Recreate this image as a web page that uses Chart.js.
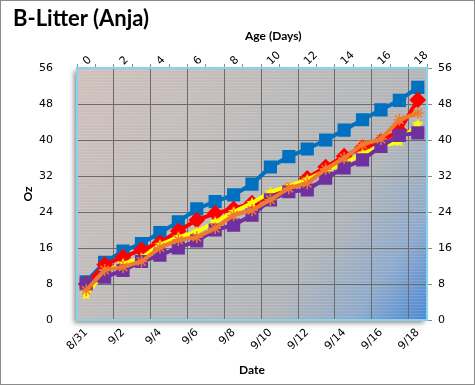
<!DOCTYPE html>
<html lang="en">
<head>
    <meta charset="UTF-8">
    <title>B-Litter (Anja)</title>
    <script src="https://cdn.jsdelivr.net/npm/chart.js@4.4.1/dist/chart.umd.min.js"></script>
    <style>
        body { margin: 0; background: #fff; }
        #wrap { position: relative; width: 475px; height: 385px; }
        #frame { position: absolute; left: 0; top: 0; width: 473px; height: 383px; border: 1px solid #8a8a8a; pointer-events: none; }
        #title { position: absolute; left: 13px; top: 4px; font: bold 22px Lato, sans-serif; color: #000; }
        #ageTitle { position: absolute; left: 245px; top: 28px; font: bold 12px Lato, sans-serif; color: #000; }
    </style>
</head>
<body>
    <div id="wrap">
        <canvas id="weightChart" width="475" height="385"></canvas>
        <div id="title">B-Litter (Anja)</div>
        <div id="ageTitle">Age (Days)</div>
        <div id="frame"></div>
    </div>

    <script>
        // dates on the bottom axis, age in days on the top axis
        const dates = ['8/31', '9/1', '9/2', '9/3', '9/4', '9/5', '9/6', '9/7', '9/8', '9/9',
                       '9/10', '9/11', '9/12', '9/13', '9/14', '9/15', '9/16', '9/17', '9/18'];
        const ages = ['0', '1', '2', '3', '4', '5', '6', '7', '8', '9',
                      '10', '11', '12', '13', '14', '15', '16', '17', '18'];
        const ozTicks = [0, 8, 16, 24, 32, 40, 48, 56];

        // weights in oz
        const bluePup   = [8.5, 12.8, 15.3, 17, 19.4, 21.8, 24.7, 26.3, 27.8, 30.2, 34, 36.3, 38, 40, 42.2, 44.5, 46.7, 48.8, 51.7];
        const redPup    = [8, 12.3, 14, 15.6, 17.2, 19.8, 22.2, 23.7, 24.7, 26, 27.5, 29, 31.5, 34, 36.4, 38.3, 39.7, 42.1, 48.9];
        const orangePup = [6.6, 11.1, 11.8, 13, 16.1, 17.8, 18.4, 20.4, 23.3, 24.4, 26.7, 29.3, 30.4, 33.5, 36, 39, 40.2, 44.5, 46];
        const yellowPup = [5.6, 10.7, 12.5, 13.8, 16.7, 18.4, 19.6, 21.8, 24, 26, 28.4, 29.8, 31.2, 33.2, 34.8, 37, 38.6, 39.6, 43.5];
        const purplePup = [8, 9.5, 11, 13, 14.4, 16, 17.6, 20, 21.1, 23.3, 26.7, 28.5, 28.9, 31.5, 33.8, 35.6, 38.6, 41, 41.6];

        // filled star marker for the yellow series
        function makeStar(color, size) {
            const c = document.createElement('canvas');
            c.width = size; c.height = size;
            const g = c.getContext('2d');
            const cx = size / 2, cy = size / 2, outer = size / 2, inner = size / 4.5;
            g.beginPath();
            for (let i = 0; i < 10; i++) {
                const r = i % 2 === 0 ? outer : inner;
                const a = -Math.PI / 2 + i * Math.PI / 5;
                g.lineTo(cx + r * Math.cos(a), cy + r * Math.sin(a));
            }
            g.closePath();
            g.fillStyle = color;
            g.fill();
            return c;
        }

        const tickFont = { family: 'DejaVu Sans', size: 11 };
        const axisTitleFont = { family: 'Lato', size: 12, weight: 'bold' };

        // gradient plot background with the faint stripe texture and shadow
        const plotBackground = {
            id: 'plotBackground',
            beforeDraw(chart) {
                const { ctx, chartArea: a } = chart;
                const w = a.right - a.left, h = a.bottom - a.top;
                const grad = ctx.createLinearGradient(a.left, a.top, a.right, a.bottom);
                grad.addColorStop(0, '#d0c0bb');
                grad.addColorStop(0.45, '#bababa');
                grad.addColorStop(0.7, '#b1b4b8');
                grad.addColorStop(0.86, '#8eaacb');
                grad.addColorStop(1, '#4a87d4');
                ctx.save();
                ctx.shadowColor = 'rgba(0,0,0,0.45)';
                ctx.shadowBlur = 5;
                ctx.shadowOffsetX = -3;
                ctx.shadowOffsetY = 3;
                ctx.fillStyle = grad;
                ctx.fillRect(a.left, a.top, w, h);
                ctx.restore();
                ctx.save();
                ctx.strokeStyle = 'rgba(255,255,255,0.13)';
                ctx.lineWidth = 1;
                for (let y = a.top + 2.5; y < a.bottom; y += 3) {
                    ctx.beginPath();
                    ctx.moveTo(a.left, y);
                    ctx.lineTo(a.right, y);
                    ctx.stroke();
                }
                ctx.restore();
            },
            afterDraw(chart) {
                const { ctx, chartArea: a } = chart;
                ctx.save();
                ctx.strokeStyle = '#86d4ee';
                ctx.lineWidth = 2;
                ctx.strokeRect(a.left, a.top, a.right - a.left, a.bottom - a.top);
                ctx.restore();
            }
        };

        function everyOther(value, index) {
            return index % 2 === 0 ? this.getLabelForValue(value) : '';
        }

        // first dataset is drawn on top
        const ctx = document.getElementById('weightChart').getContext('2d');
        const weightChart = new Chart(ctx, {
            type: 'line',
            data: {
                labels: dates,
                datasets: [
                    {
                        label: 'Orange',
                        data: orangePup,
                        borderColor: '#f07a2e',
                        backgroundColor: '#f07a2e',
                        borderWidth: 4,
                        pointStyle: 'star',
                        pointRadius: 6,
                        pointBorderWidth: 1.5
                    },
                    {
                        label: 'Purple',
                        data: purplePup,
                        borderColor: '#7030a0',
                        backgroundColor: '#7030a0',
                        borderWidth: 4,
                        pointStyle: 'rect',
                        pointRadius: 6.5
                    },
                    {
                        label: 'Yellow',
                        data: yellowPup,
                        borderColor: '#ffff00',
                        backgroundColor: '#ffff00',
                        borderWidth: 4,
                        pointStyle: makeStar('#ffff00', 12)
                    },
                    {
                        label: 'Red',
                        data: redPup,
                        borderColor: '#ff0000',
                        backgroundColor: '#ff0000',
                        borderWidth: 4,
                        pointStyle: 'rectRot',
                        pointRadius: 5.5
                    },
                    {
                        label: 'Blue',
                        data: bluePup,
                        borderColor: '#0070c0',
                        backgroundColor: '#0070c0',
                        borderWidth: 4,
                        pointStyle: 'rect',
                        pointRadius: 6.5
                    }
                ]
            },
            options: {
                responsive: false,
                animation: false,
                layout: { padding: 0 },
                plugins: {
                    legend: { display: false },
                    tooltip: { enabled: false }
                },
                scales: {
                    x: {
                        type: 'category',
                        position: 'bottom',
                        offset: true,
                        border: { display: false },
                        grid: {
                            offset: true,
                            color: c => c.index % 2 === 0 ? '#6c6c6c' : 'rgba(0,0,0,0)',
                            tickLength: 4,
                            tickColor: 'rgba(0,0,0,0)'
                        },
                        ticks: {
                            autoSkip: false,
                            minRotation: 45,
                            maxRotation: 45,
                            padding: 2,
                            color: '#000',
                            font: tickFont,
                            callback: everyOther
                        },
                        title: { display: true, text: 'Date', color: '#000', font: axisTitleFont, padding: { top: 0, bottom: 8 } },
                        afterFit: s => { s.height = 65; }
                    },
                    x2: {
                        type: 'category',
                        position: 'top',
                        labels: ages,
                        offset: true,
                        border: { display: false },
                        grid: {
                            offset: true,
                            drawOnChartArea: false,
                            tickLength: 4,
                            color: '#8a8a8a'
                        },
                        ticks: {
                            autoSkip: false,
                            minRotation: 45,
                            maxRotation: 45,
                            padding: -4,
                            labelOffset: 8,
                            color: '#000',
                            font: tickFont,
                            callback: everyOther
                        },
                        afterFit: s => { s.height = 68; }
                    },
                    y: {
                        position: 'left',
                        min: 0,
                        max: 56,
                        afterBuildTicks: s => { s.ticks = ozTicks.map(v => ({ value: v })); },
                        border: { display: false },
                        grid: { color: '#6c6c6c', tickLength: 5, tickColor: 'rgba(0,0,0,0)' },
                        ticks: { color: '#000', font: tickFont, padding: 19 },
                        title: { display: true, text: 'Oz', color: '#000', font: axisTitleFont, padding: { top: 21, bottom: 0 } },
                        afterFit: s => { s.width = 77; }
                    },
                    y2: {
                        position: 'right',
                        min: 0,
                        max: 56,
                        afterBuildTicks: s => { s.ticks = ozTicks.map(v => ({ value: v })); },
                        border: { display: false },
                        grid: { drawOnChartArea: false, tickLength: 5, color: '#8a8a8a' },
                        ticks: { color: '#000', font: tickFont, padding: 6 },
                        afterFit: s => { s.width = 48; }
                    }
                }
            },
            plugins: [plotBackground]
        });
    </script>
</body>
</html>
